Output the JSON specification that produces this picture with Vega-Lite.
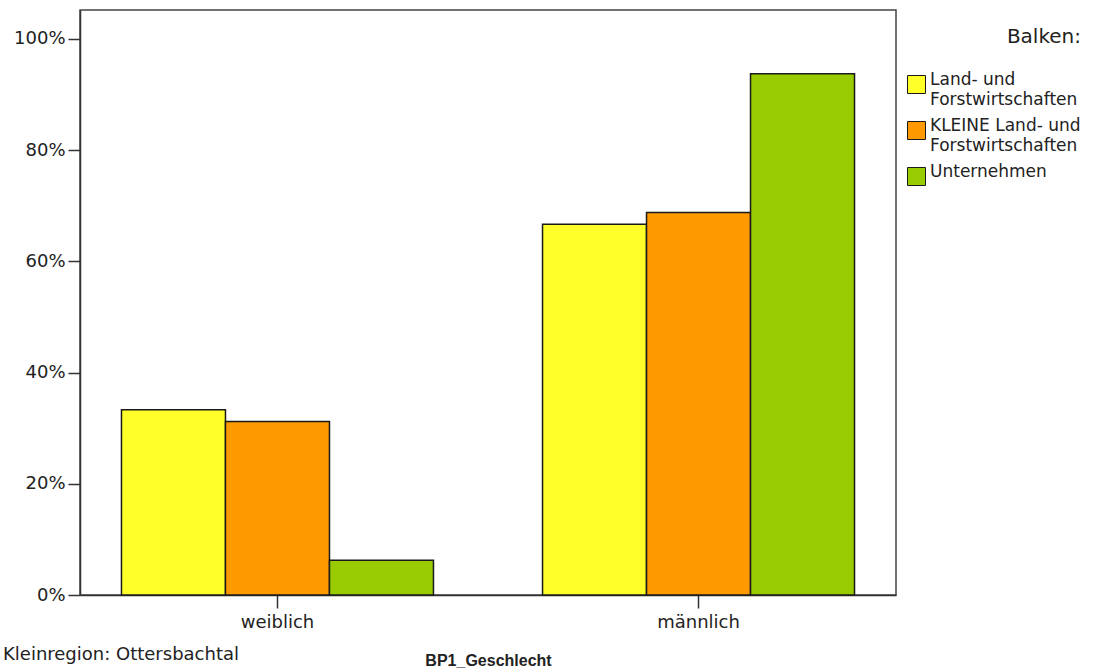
{
  "$schema": "https://vega.github.io/schema/vega-lite/v6.json",
  "autosize": "none",
  "width": 816,
  "height": 585,
  "padding": {"left": 80, "top": 10, "right": 209, "bottom": 75},
  "background": "white",
  "title": {
    "text": "Kleinregion: Ottersbachtal",
    "orient": "bottom",
    "anchor": "start",
    "frame": "group",
    "font": "DejaVu Sans",
    "fontSize": 18,
    "fontWeight": "normal",
    "color": "#222",
    "offset": 0,
    "dx": -77,
    "dy": -8,
    "baseline": "alphabetic"
  },
  "data": {
    "values": [
      {"geschlecht": "weiblich", "balken": "Land- und Forstwirtschaften", "anteil": 0.3333},
      {"geschlecht": "weiblich", "balken": "KLEINE Land- und Forstwirtschaften", "anteil": 0.312},
      {"geschlecht": "weiblich", "balken": "Unternehmen", "anteil": 0.0625},
      {"geschlecht": "männlich", "balken": "Land- und Forstwirtschaften", "anteil": 0.6667},
      {"geschlecht": "männlich", "balken": "KLEINE Land- und Forstwirtschaften", "anteil": 0.688},
      {"geschlecht": "männlich", "balken": "Unternehmen", "anteil": 0.9375}
    ]
  },
  "mark": {"type": "bar", "stroke": "#1a1a1a", "strokeWidth": 1.5},
  "encoding": {
    "x": {
      "field": "geschlecht",
      "type": "nominal",
      "sort": ["weiblich", "männlich"],
      "scale": {"paddingInner": 0.259, "paddingOuter": 0.0985},
      "axis": {
        "title": "BP1_Geschlecht",
        "titleFont": "Liberation Sans",
        "titleFontWeight": "bold",
        "titleFontSize": 16,
        "titleColor": "#222",
        "titlePadding": 21,
        "labelAngle": 0,
        "labelFont": "DejaVu Sans",
        "labelFontSize": 18,
        "labelColor": "#222",
        "labelPadding": 5,
        "tickSize": 13,
        "tickColor": "#333",
        "tickWidth": 1.5,
        "domainColor": "#333",
        "domainWidth": 1.5,
        "grid": false
      }
    },
    "xOffset": {
      "field": "balken",
      "type": "nominal",
      "sort": ["Land- und Forstwirtschaften", "KLEINE Land- und Forstwirtschaften", "Unternehmen"],
      "scale": {"paddingInner": 0, "paddingOuter": 0}
    },
    "y": {
      "field": "anteil",
      "type": "quantitative",
      "scale": {"domain": [0, 1.052], "nice": false, "zero": true},
      "axis": {
        "title": null,
        "format": ".0%",
        "values": [0, 0.2, 0.4, 0.6, 0.8, 1.0],
        "labelFont": "DejaVu Sans",
        "labelFontSize": 18,
        "labelColor": "#222",
        "labelPadding": 3,
        "tickSize": 12,
        "tickColor": "#333",
        "tickWidth": 1.5,
        "domainColor": "#333",
        "domainWidth": 1.5,
        "grid": false
      }
    },
    "color": {
      "field": "balken",
      "type": "nominal",
      "sort": ["Land- und Forstwirtschaften", "KLEINE Land- und Forstwirtschaften", "Unternehmen"],
      "scale": {
        "domain": ["Land- und Forstwirtschaften", "KLEINE Land- und Forstwirtschaften", "Unternehmen"],
        "range": ["#ffff29", "#ff9900", "#99cc00"]
      },
      "legend": {
        "title": "Balken:",
        "orient": "right",
        "offset": -6,
        "padding": 17,
        "titleFont": "DejaVu Sans",
        "titleFontSize": 20,
        "titleFontWeight": "normal",
        "titleColor": "#222",
        "titleAnchor": "end",
        "titleAlign": "right",
        "titlePadding": 28,
        "labelFont": "DejaVu Sans",
        "labelFontSize": 17,
        "labelBaseline": "alphabetic",
        "labelColor": "#222",
        "labelLimit": 400,
        "labelOffset": 4,
        "labelExpr": "split(replace(datum.label, 'und ', 'und|'), '|')",
        "symbolType": "square",
        "symbolSize": 324,
        "symbolStrokeColor": "#1a1a1a",
        "symbolStrokeWidth": 1,
        "symbolOpacity": 1,
        "rowPadding": 8
      }
    }
  },
  "config": {
    "view": {"stroke": "#444", "strokeWidth": 1.5},
    "style": {"guide-label": {"lineHeight": 20}}
  }
}
